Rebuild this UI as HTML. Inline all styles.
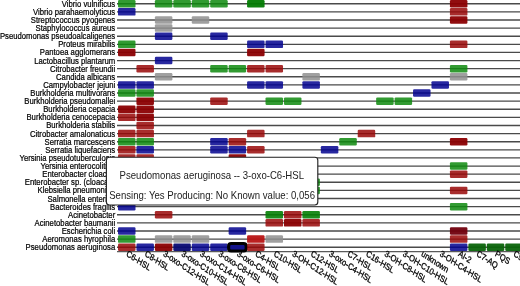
<!DOCTYPE html>
<html><head><meta charset="utf-8"><style>
html,body{margin:0;padding:0;background:#fff;width:520px;height:286px;overflow:hidden}
svg{position:absolute;left:0;top:0;will-change:transform}
text{font-family:"Liberation Sans",sans-serif}
.rl{font-size:7.72px;fill:#000;text-anchor:end;stroke:#000;stroke-width:0.2px}
.tt{font-size:9.6px;fill:#222;text-anchor:middle}
.cl{font-size:7.5px;fill:#000;stroke:#000;stroke-width:0.25px}
</style></head><body>
<svg width="520" height="286" viewBox="0 0 520 286">

<line x1="117" y1="3.75" x2="520" y2="3.75" stroke="#4a4a4a" stroke-width="1.35"/>
<line x1="117" y1="11.87" x2="520" y2="11.87" stroke="#4a4a4a" stroke-width="1.35"/>
<line x1="117" y1="19.98" x2="520" y2="19.98" stroke="#4a4a4a" stroke-width="1.35"/>
<line x1="117" y1="28.09" x2="520" y2="28.09" stroke="#4a4a4a" stroke-width="1.35"/>
<line x1="117" y1="36.21" x2="520" y2="36.21" stroke="#4a4a4a" stroke-width="1.35"/>
<line x1="117" y1="44.33" x2="520" y2="44.33" stroke="#4a4a4a" stroke-width="1.35"/>
<line x1="117" y1="52.44" x2="520" y2="52.44" stroke="#4a4a4a" stroke-width="1.35"/>
<line x1="117" y1="60.55" x2="520" y2="60.55" stroke="#4a4a4a" stroke-width="1.35"/>
<line x1="117" y1="68.67" x2="520" y2="68.67" stroke="#4a4a4a" stroke-width="1.35"/>
<line x1="117" y1="76.78" x2="520" y2="76.78" stroke="#4a4a4a" stroke-width="1.35"/>
<line x1="117" y1="84.90" x2="520" y2="84.90" stroke="#4a4a4a" stroke-width="1.35"/>
<line x1="117" y1="93.02" x2="520" y2="93.02" stroke="#4a4a4a" stroke-width="1.35"/>
<line x1="117" y1="101.13" x2="520" y2="101.13" stroke="#4a4a4a" stroke-width="1.35"/>
<line x1="117" y1="109.25" x2="520" y2="109.25" stroke="#4a4a4a" stroke-width="1.35"/>
<line x1="117" y1="117.36" x2="520" y2="117.36" stroke="#4a4a4a" stroke-width="1.35"/>
<line x1="117" y1="125.48" x2="520" y2="125.48" stroke="#4a4a4a" stroke-width="1.35"/>
<line x1="117" y1="133.59" x2="520" y2="133.59" stroke="#4a4a4a" stroke-width="1.35"/>
<line x1="117" y1="141.71" x2="520" y2="141.71" stroke="#4a4a4a" stroke-width="1.35"/>
<line x1="117" y1="149.82" x2="520" y2="149.82" stroke="#4a4a4a" stroke-width="1.35"/>
<line x1="117" y1="157.94" x2="520" y2="157.94" stroke="#4a4a4a" stroke-width="1.35"/>
<line x1="117" y1="166.05" x2="520" y2="166.05" stroke="#4a4a4a" stroke-width="1.35"/>
<line x1="117" y1="174.16" x2="520" y2="174.16" stroke="#4a4a4a" stroke-width="1.35"/>
<line x1="117" y1="182.28" x2="520" y2="182.28" stroke="#4a4a4a" stroke-width="1.35"/>
<line x1="117" y1="190.40" x2="520" y2="190.40" stroke="#4a4a4a" stroke-width="1.35"/>
<line x1="117" y1="198.51" x2="520" y2="198.51" stroke="#4a4a4a" stroke-width="1.35"/>
<line x1="117" y1="206.62" x2="520" y2="206.62" stroke="#4a4a4a" stroke-width="1.35"/>
<line x1="117" y1="214.74" x2="520" y2="214.74" stroke="#4a4a4a" stroke-width="1.35"/>
<line x1="117" y1="222.86" x2="520" y2="222.86" stroke="#4a4a4a" stroke-width="1.35"/>
<line x1="117" y1="230.97" x2="520" y2="230.97" stroke="#4a4a4a" stroke-width="1.35"/>
<line x1="117" y1="239.09" x2="520" y2="239.09" stroke="#4a4a4a" stroke-width="1.35"/>
<line x1="117" y1="247.20" x2="520" y2="247.20" stroke="#4a4a4a" stroke-width="1.35"/>
<line x1="117" y1="251.60" x2="520" y2="251.60" stroke="#5a5a5a" stroke-width="1.3"/>
<text class="rl" transform="translate(115.2,6.75) scale(1,1.2)">Vibrio vulnificus</text>
<text class="rl" transform="translate(115.2,14.87) scale(1,1.2)">Vibrio parahaemolyticus</text>
<text class="rl" transform="translate(115.2,22.98) scale(1,1.2)">Streptococcus pyogenes</text>
<text class="rl" transform="translate(115.2,31.09) scale(1,1.2)">Staphylococcus aureus</text>
<text class="rl" transform="translate(115.2,39.21) scale(1,1.2)">Pseudomonas pseudoalcaligenes</text>
<text class="rl" transform="translate(115.2,47.33) scale(1,1.2)">Proteus mirabilis</text>
<text class="rl" transform="translate(115.2,55.44) scale(1,1.2)">Pantoea agglomerans</text>
<text class="rl" transform="translate(115.2,63.55) scale(1,1.2)">Lactobacillus plantarum</text>
<text class="rl" transform="translate(115.2,71.67) scale(1,1.2)">Citrobacter freundii</text>
<text class="rl" transform="translate(115.2,79.78) scale(1,1.2)">Candida albicans</text>
<text class="rl" transform="translate(115.2,87.90) scale(1,1.2)">Campylobacter jejuni</text>
<text class="rl" transform="translate(115.2,96.02) scale(1,1.2)">Burkholderia multivorans</text>
<text class="rl" transform="translate(115.2,104.13) scale(1,1.2)">Burkholderia pseudomallei</text>
<text class="rl" transform="translate(115.2,112.25) scale(1,1.2)">Burkholderia cepacia</text>
<text class="rl" transform="translate(115.2,120.36) scale(1,1.2)">Burkholderia cenocepacia</text>
<text class="rl" transform="translate(115.2,128.48) scale(1,1.2)">Burkholderia stabilis</text>
<text class="rl" transform="translate(115.2,136.59) scale(1,1.2)">Citrobacter amalonaticus</text>
<text class="rl" transform="translate(115.2,144.71) scale(1,1.2)">Serratia marcescens</text>
<text class="rl" transform="translate(115.2,152.82) scale(1,1.2)">Serratia liquefaciens</text>
<text class="rl" transform="translate(115.2,160.94) scale(1,1.2)">Yersinia pseudotuberculosis</text>
<text class="rl" transform="translate(115.2,169.05) scale(1,1.2)">Yersinia enterocolitica</text>
<text class="rl" transform="translate(115.2,177.16) scale(1,1.2)">Enterobacter cloacae</text>
<text class="rl" transform="translate(115.2,185.28) scale(1,1.2)">Enterobacter sp. (cloacae)</text>
<text class="rl" transform="translate(115.2,193.40) scale(1,1.2)">Klebsiella pneumoniae</text>
<text class="rl" transform="translate(115.2,201.51) scale(1,1.2)">Salmonella enterica</text>
<text class="rl" transform="translate(115.2,209.62) scale(1,1.2)">Bacteroides fragilis</text>
<text class="rl" transform="translate(115.2,217.74) scale(1,1.2)">Acinetobacter</text>
<text class="rl" transform="translate(115.2,225.86) scale(1,1.2)">Acinetobacter baumanii</text>
<text class="rl" transform="translate(115.2,233.97) scale(1,1.2)">Escherichia coli</text>
<text class="rl" transform="translate(115.2,242.09) scale(1,1.2)">Aeromonas hyrophila</text>
<text class="rl" transform="translate(115.2,250.20) scale(1,1.2)">Pseudomonas aeruginosa</text>
<rect x="118.00" y="0.00" width="17.5" height="7.5" rx="1.2" fill="#0e890e" fill-opacity="0.85"/>
<rect x="154.88" y="0.00" width="17.5" height="7.5" rx="1.2" fill="#0e890e" fill-opacity="0.85"/>
<rect x="173.32" y="0.00" width="17.5" height="7.5" rx="1.2" fill="#0e890e" fill-opacity="0.85"/>
<rect x="191.76" y="0.00" width="17.5" height="7.5" rx="1.2" fill="#0e890e" fill-opacity="0.85"/>
<rect x="210.20" y="0.00" width="17.5" height="7.5" rx="1.2" fill="#0e890e" fill-opacity="0.85"/>
<rect x="247.08" y="0.00" width="17.5" height="7.5" rx="1.2" fill="#027b02" fill-opacity="0.95"/>
<rect x="449.92" y="0.00" width="17.5" height="7.5" rx="1.2" fill="#8b0002" fill-opacity="0.95"/>
<rect x="118.00" y="8.12" width="17.5" height="7.5" rx="1.2" fill="#02028f" fill-opacity="0.85"/>
<rect x="449.92" y="8.12" width="17.5" height="7.5" rx="1.2" fill="#990808" fill-opacity="0.85"/>
<rect x="154.88" y="16.23" width="17.5" height="7.5" rx="1.2" fill="#8f8f8f" fill-opacity="0.85"/>
<rect x="191.76" y="16.23" width="17.5" height="7.5" rx="1.2" fill="#8f8f8f" fill-opacity="0.85"/>
<rect x="449.92" y="16.23" width="17.5" height="7.5" rx="1.2" fill="#8b0002" fill-opacity="0.95"/>
<rect x="154.88" y="24.34" width="17.5" height="7.5" rx="1.2" fill="#8f8f8f" fill-opacity="0.85"/>
<rect x="154.88" y="32.46" width="17.5" height="7.5" rx="1.2" fill="#02028f" fill-opacity="0.85"/>
<rect x="210.20" y="32.46" width="17.5" height="7.5" rx="1.2" fill="#02028f" fill-opacity="0.85"/>
<rect x="118.00" y="40.58" width="17.5" height="7.5" rx="1.2" fill="#0e890e" fill-opacity="0.85"/>
<rect x="247.08" y="40.58" width="17.5" height="7.5" rx="1.2" fill="#02028f" fill-opacity="0.85"/>
<rect x="265.52" y="40.58" width="17.5" height="7.5" rx="1.2" fill="#02028f" fill-opacity="0.85"/>
<rect x="449.92" y="40.58" width="17.5" height="7.5" rx="1.2" fill="#990808" fill-opacity="0.85"/>
<rect x="118.00" y="48.69" width="17.5" height="7.5" rx="1.2" fill="#8b0002" fill-opacity="0.95"/>
<rect x="247.08" y="48.69" width="17.5" height="7.5" rx="1.2" fill="#8b0002" fill-opacity="0.95"/>
<rect x="154.88" y="56.80" width="17.5" height="7.5" rx="1.2" fill="#02028f" fill-opacity="0.85"/>
<rect x="136.44" y="64.92" width="17.5" height="7.5" rx="1.2" fill="#990808" fill-opacity="0.85"/>
<rect x="210.20" y="64.92" width="17.5" height="7.5" rx="1.2" fill="#0e890e" fill-opacity="0.85"/>
<rect x="228.64" y="64.92" width="17.5" height="7.5" rx="1.2" fill="#0e890e" fill-opacity="0.85"/>
<rect x="247.08" y="64.92" width="17.5" height="7.5" rx="1.2" fill="#990808" fill-opacity="0.85"/>
<rect x="265.52" y="64.92" width="17.5" height="7.5" rx="1.2" fill="#990808" fill-opacity="0.85"/>
<rect x="449.92" y="64.92" width="17.5" height="7.5" rx="1.2" fill="#0e890e" fill-opacity="0.85"/>
<rect x="154.88" y="73.03" width="17.5" height="7.5" rx="1.2" fill="#8f8f8f" fill-opacity="0.85"/>
<rect x="302.40" y="73.03" width="17.5" height="7.5" rx="1.2" fill="#8f8f8f" fill-opacity="0.85"/>
<rect x="449.92" y="73.03" width="17.5" height="7.5" rx="1.2" fill="#8f8f8f" fill-opacity="0.85"/>
<rect x="118.00" y="81.15" width="17.5" height="7.5" rx="1.2" fill="#02028f" fill-opacity="0.85"/>
<rect x="136.44" y="81.15" width="17.5" height="7.5" rx="1.2" fill="#02028f" fill-opacity="0.85"/>
<rect x="247.08" y="81.15" width="17.5" height="7.5" rx="1.2" fill="#02028f" fill-opacity="0.85"/>
<rect x="265.52" y="81.15" width="17.5" height="7.5" rx="1.2" fill="#02028f" fill-opacity="0.85"/>
<rect x="302.40" y="81.15" width="17.5" height="7.5" rx="1.2" fill="#02028f" fill-opacity="0.85"/>
<rect x="431.48" y="81.15" width="17.5" height="7.5" rx="1.2" fill="#02028f" fill-opacity="0.85"/>
<rect x="118.00" y="89.27" width="17.5" height="7.5" rx="1.2" fill="#0e890e" fill-opacity="0.85"/>
<rect x="136.44" y="89.27" width="17.5" height="7.5" rx="1.2" fill="#0e890e" fill-opacity="0.85"/>
<rect x="413.04" y="89.27" width="17.5" height="7.5" rx="1.2" fill="#02028f" fill-opacity="0.85"/>
<rect x="136.44" y="97.38" width="17.5" height="7.5" rx="1.2" fill="#8b0002" fill-opacity="0.95"/>
<rect x="210.20" y="97.38" width="17.5" height="7.5" rx="1.2" fill="#990808" fill-opacity="0.85"/>
<rect x="265.52" y="97.38" width="17.5" height="7.5" rx="1.2" fill="#0e890e" fill-opacity="0.85"/>
<rect x="283.96" y="97.38" width="17.5" height="7.5" rx="1.2" fill="#0e890e" fill-opacity="0.85"/>
<rect x="376.16" y="97.38" width="17.5" height="7.5" rx="1.2" fill="#0e890e" fill-opacity="0.85"/>
<rect x="394.60" y="97.38" width="17.5" height="7.5" rx="1.2" fill="#0e890e" fill-opacity="0.85"/>
<rect x="118.00" y="105.50" width="17.5" height="7.5" rx="1.2" fill="#8b0002" fill-opacity="0.95"/>
<rect x="136.44" y="105.50" width="17.5" height="7.5" rx="1.2" fill="#8b0002" fill-opacity="0.95"/>
<rect x="118.00" y="113.61" width="17.5" height="7.5" rx="1.2" fill="#990808" fill-opacity="0.85"/>
<rect x="136.44" y="113.61" width="17.5" height="7.5" rx="1.2" fill="#8b0002" fill-opacity="0.95"/>
<rect x="136.44" y="121.73" width="17.5" height="7.5" rx="1.2" fill="#990808" fill-opacity="0.85"/>
<rect x="118.00" y="129.84" width="17.5" height="7.5" rx="1.2" fill="#990808" fill-opacity="0.85"/>
<rect x="136.44" y="129.84" width="17.5" height="7.5" rx="1.2" fill="#990808" fill-opacity="0.85"/>
<rect x="247.08" y="129.84" width="17.5" height="7.5" rx="1.2" fill="#990808" fill-opacity="0.85"/>
<rect x="357.72" y="129.84" width="17.5" height="7.5" rx="1.2" fill="#990808" fill-opacity="0.85"/>
<rect x="118.00" y="137.96" width="17.5" height="7.5" rx="1.2" fill="#0e890e" fill-opacity="0.85"/>
<rect x="136.44" y="137.96" width="17.5" height="7.5" rx="1.2" fill="#0e890e" fill-opacity="0.85"/>
<rect x="210.20" y="137.96" width="17.5" height="7.5" rx="1.2" fill="#02028f" fill-opacity="0.85"/>
<rect x="228.64" y="137.96" width="17.5" height="7.5" rx="1.2" fill="#990808" fill-opacity="0.85"/>
<rect x="339.28" y="137.96" width="17.5" height="7.5" rx="1.2" fill="#0e890e" fill-opacity="0.85"/>
<rect x="449.92" y="137.96" width="17.5" height="7.5" rx="1.2" fill="#8b0002" fill-opacity="0.95"/>
<rect x="118.00" y="146.07" width="17.5" height="7.5" rx="1.2" fill="#990808" fill-opacity="0.85"/>
<rect x="136.44" y="146.07" width="17.5" height="7.5" rx="1.2" fill="#02028f" fill-opacity="0.85"/>
<rect x="210.20" y="146.07" width="17.5" height="7.5" rx="1.2" fill="#02028f" fill-opacity="0.85"/>
<rect x="228.64" y="146.07" width="17.5" height="7.5" rx="1.2" fill="#02028f" fill-opacity="0.85"/>
<rect x="247.08" y="146.07" width="17.5" height="7.5" rx="1.2" fill="#990808" fill-opacity="0.85"/>
<rect x="320.84" y="146.07" width="17.5" height="7.5" rx="1.2" fill="#02028f" fill-opacity="0.85"/>
<rect x="118.00" y="154.19" width="17.5" height="7.5" rx="1.2" fill="#990808" fill-opacity="0.85"/>
<rect x="136.44" y="154.19" width="17.5" height="7.5" rx="1.2" fill="#990808" fill-opacity="0.85"/>
<rect x="228.64" y="154.19" width="17.5" height="7.5" rx="1.2" fill="#8b0002" fill-opacity="0.95"/>
<rect x="449.92" y="162.30" width="17.5" height="7.5" rx="1.2" fill="#0e890e" fill-opacity="0.85"/>
<rect x="449.92" y="170.41" width="17.5" height="7.5" rx="1.2" fill="#990808" fill-opacity="0.85"/>
<rect x="302.40" y="178.53" width="17.5" height="7.5" rx="1.2" fill="#0e890e" fill-opacity="0.85"/>
<rect x="302.40" y="186.65" width="17.5" height="7.5" rx="1.2" fill="#0e890e" fill-opacity="0.85"/>
<rect x="449.92" y="186.65" width="17.5" height="7.5" rx="1.2" fill="#990808" fill-opacity="0.85"/>
<rect x="118.00" y="202.88" width="17.5" height="7.5" rx="1.2" fill="#02028f" fill-opacity="0.85"/>
<rect x="449.92" y="202.88" width="17.5" height="7.5" rx="1.2" fill="#0e890e" fill-opacity="0.85"/>
<rect x="154.88" y="210.99" width="17.5" height="7.5" rx="1.2" fill="#990808" fill-opacity="0.85"/>
<rect x="265.52" y="210.99" width="17.5" height="7.5" rx="1.2" fill="#058005" fill-opacity="0.9"/>
<rect x="283.96" y="210.99" width="17.5" height="7.5" rx="1.2" fill="#990808" fill-opacity="0.85"/>
<rect x="302.40" y="210.99" width="17.5" height="7.5" rx="1.2" fill="#058005" fill-opacity="0.9"/>
<rect x="265.52" y="219.11" width="17.5" height="7.5" rx="1.2" fill="#990808" fill-opacity="0.85"/>
<rect x="283.96" y="219.11" width="17.5" height="7.5" rx="1.2" fill="#8b0002" fill-opacity="0.95"/>
<rect x="302.40" y="219.11" width="17.5" height="7.5" rx="1.2" fill="#990808" fill-opacity="0.85"/>
<rect x="118.00" y="227.22" width="17.5" height="7.5" rx="1.2" fill="#02028f" fill-opacity="0.85"/>
<rect x="228.64" y="227.22" width="17.5" height="7.5" rx="1.2" fill="#02028f" fill-opacity="0.85"/>
<rect x="449.92" y="227.22" width="17.5" height="7.5" rx="1.2" fill="#71000d" fill-opacity="0.95"/>
<rect x="118.00" y="235.34" width="17.5" height="7.5" rx="1.2" fill="#0e890e" fill-opacity="0.85"/>
<rect x="154.88" y="235.34" width="17.5" height="7.5" rx="1.2" fill="#8f8f8f" fill-opacity="0.85"/>
<rect x="173.32" y="235.34" width="17.5" height="7.5" rx="1.2" fill="#8f8f8f" fill-opacity="0.85"/>
<rect x="191.76" y="235.34" width="17.5" height="7.5" rx="1.2" fill="#8f8f8f" fill-opacity="0.85"/>
<rect x="247.08" y="235.34" width="17.5" height="7.5" rx="1.2" fill="#b81414" fill-opacity="0.95"/>
<rect x="265.52" y="235.34" width="17.5" height="7.5" rx="1.2" fill="#8f8f8f" fill-opacity="0.85"/>
<rect x="449.92" y="235.34" width="17.5" height="7.5" rx="1.2" fill="#990808" fill-opacity="0.85"/>
<rect x="118.00" y="243.45" width="17.5" height="7.5" rx="1.2" fill="#990808" fill-opacity="0.85"/>
<rect x="136.44" y="243.45" width="17.5" height="7.5" rx="1.2" fill="#02028f" fill-opacity="0.85"/>
<rect x="154.88" y="243.45" width="17.5" height="7.5" rx="1.2" fill="#8b0002" fill-opacity="0.95"/>
<rect x="173.32" y="243.45" width="17.5" height="7.5" rx="1.2" fill="#080872" fill-opacity="0.95"/>
<rect x="191.76" y="243.45" width="17.5" height="7.5" rx="1.2" fill="#02028f" fill-opacity="0.85"/>
<rect x="210.20" y="243.45" width="17.5" height="7.5" rx="1.2" fill="#02028f" fill-opacity="0.85"/>
<rect x="228.64" y="243.45" width="17.5" height="7.5" rx="2.5" fill="#12128a" fill-opacity="1" stroke="#000" stroke-width="3.1"/>
<rect x="247.08" y="243.45" width="17.5" height="7.5" rx="1.2" fill="#990808" fill-opacity="0.85"/>
<rect x="449.92" y="243.45" width="17.5" height="7.5" rx="1.2" fill="#02028f" fill-opacity="0.85"/>
<rect x="468.36" y="243.45" width="17.5" height="7.5" rx="1.2" fill="#0a640a" fill-opacity="0.95"/>
<rect x="486.80" y="243.45" width="17.5" height="7.5" rx="1.2" fill="#0a640a" fill-opacity="0.95"/>
<rect x="505.24" y="243.45" width="17.5" height="7.5" rx="1.2" fill="#0a640a" fill-opacity="0.95"/>
<text class="cl" transform="translate(125.75,255.5) scale(1,1.2) rotate(29)" x="0" y="0">C6-HSL</text>
<text class="cl" transform="translate(144.19,255.5) scale(1,1.2) rotate(29)" x="0" y="0">C8-HSL</text>
<text class="cl" transform="translate(162.63,255.5) scale(1,1.2) rotate(29)" x="0" y="0">3-oxo-C12-HSL</text>
<text class="cl" transform="translate(181.07,255.5) scale(1,1.2) rotate(29)" x="0" y="0">3-oxo-C10-HSL</text>
<text class="cl" transform="translate(199.51,255.5) scale(1,1.2) rotate(29)" x="0" y="0">3-oxo-C14-HSL</text>
<text class="cl" transform="translate(217.95,255.5) scale(1,1.2) rotate(29)" x="0" y="0">3-oxo-C8-HSL</text>
<text class="cl" transform="translate(236.39,255.5) scale(1,1.2) rotate(29)" x="0" y="0">3-oxo-C6-HSL</text>
<text class="cl" transform="translate(254.83,255.5) scale(1,1.2) rotate(29)" x="0" y="0">C4-HSL</text>
<text class="cl" transform="translate(273.27,255.5) scale(1,1.2) rotate(29)" x="0" y="0">C10-HSL</text>
<text class="cl" transform="translate(291.71,255.5) scale(1,1.2) rotate(29)" x="0" y="0">3-OH-C12-HSL</text>
<text class="cl" transform="translate(310.15,255.5) scale(1,1.2) rotate(29)" x="0" y="0">C12-HSL</text>
<text class="cl" transform="translate(328.59,255.5) scale(1,1.2) rotate(29)" x="0" y="0">3-oxo-C4-HSL</text>
<text class="cl" transform="translate(347.03,255.5) scale(1,1.2) rotate(29)" x="0" y="0">C7-HSL</text>
<text class="cl" transform="translate(365.47,255.5) scale(1,1.2) rotate(29)" x="0" y="0">C16-HSL</text>
<text class="cl" transform="translate(383.91,255.5) scale(1,1.2) rotate(29)" x="0" y="0">3-OH-C8-HSL</text>
<text class="cl" transform="translate(402.35,255.5) scale(1,1.2) rotate(29)" x="0" y="0">3-OH-C10-HSL</text>
<text class="cl" transform="translate(420.79,255.5) scale(1,1.2) rotate(29)" x="0" y="0">unknown</text>
<text class="cl" transform="translate(439.23,255.5) scale(1,1.2) rotate(29)" x="0" y="0">3-OH-C4-HSL</text>
<text class="cl" transform="translate(457.67,255.5) scale(1,1.2) rotate(29)" x="0" y="0">AI-2</text>
<text class="cl" transform="translate(476.11,255.5) scale(1,1.2) rotate(29)" x="0" y="0">C7-AQ</text>
<text class="cl" transform="translate(494.55,255.5) scale(1,1.2) rotate(29)" x="0" y="0">PQS</text>
<text class="cl" transform="translate(512.99,255.5) scale(1,1.2) rotate(29)" x="0" y="0">C9-PQS</text>
<rect x="106.4" y="157.2" width="211.4" height="47.8" rx="3" fill="#fff" stroke="#262626" stroke-width="1.15"/>
<text class="tt" transform="translate(211.8,178.7) scale(1,1.2)">Pseudomonas aeruginosa -- 3-oxo-C6-HSL</text>
<text class="tt" transform="translate(212.1,199) scale(1,1.2)">Sensing: Yes Producing: No Known value: 0,056</text>
</svg>
</body></html>
